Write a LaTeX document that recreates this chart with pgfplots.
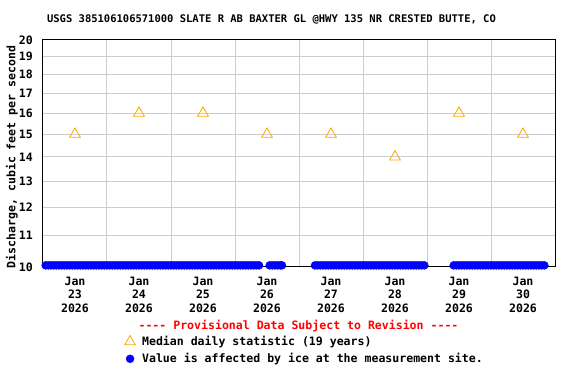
\documentclass[border=0pt]{standalone}
\usepackage{fontspec}
\setmonofont{DejaVu Sans Mono}
\usepackage{pgfplots}
\pgfplotsset{compat=1.18}
\definecolor{gridgray}{HTML}{CCCCCC}
\definecolor{medorange}{HTML}{FFA500}
\begin{document}
\ttfamily\bfseries\fontsize{11.55}{13}\selectfont
\begin{tikzpicture}
\useasboundingbox (-43pt,-117pt) rectangle (533pt,267pt);
\begin{axis}[
  at={(0pt,0pt)}, anchor=south west,
  scale only axis, width=512pt, height=227pt,
  xmin=0, xmax=192,
  ymode=log, ymin=10, ymax=20,
  ytick={10,11,12,13,14,15,16,17,18,19,20},
  yticklabels={10,11,12,13,14,15,16,17,18,19,20},
  xtick={12,36,60,84,108,132,156,180},
  xticklabels={{Jan\\23\\2026},{Jan\\24\\2026},{Jan\\25\\2026},{Jan\\26\\2026},{Jan\\27\\2026},{Jan\\28\\2026},{Jan\\29\\2026},{Jan\\30\\2026}},
  xticklabel style={align=center, anchor=north, inner sep=0pt, yshift=-10pt, font=\ttfamily\bfseries\fontsize{11.55}{13.2}\selectfont},
  yticklabel style={anchor=east, inner sep=0pt, xshift=-10pt},
  minor xtick={24,48,72,96,120,144,168},
  xminorgrids, ymajorgrids,
  major grid style={draw=gridgray, line width=1pt},
  minor grid style={draw=gridgray, line width=1pt},
  major tick length=0pt, minor tick length=0pt,
  axis line style={line width=1pt, black},
  /pgf/number format/assume math mode=true,
  clip=false,
  legend style={at={(axis description cs:0.158,-0.297)}, anchor=north west, draw=none, fill=none, inner sep=0pt, row sep=3pt, nodes={inner sep=1.5pt}},
  legend cell align=left,
  legend image code/.code={\path[draw=none,fill=none] (0pt,0pt) -- (16.5pt,0pt); \draw[mark repeat=2,mark phase=2,#1] plot coordinates {(0pt,0pt)(6pt,0pt)(12pt,0pt)};},
]
\addplot[only marks, mark=triangle, mark size=6.2pt, draw=medorange, line width=0.8pt] coordinates {
(12,15) (36,16) (60,16) (84,15) (108,15) (132,14) (156,16) (180,15)};
\addlegendentry{Median daily statistic (19 years)}
\addplot[only marks, mark=*, mark size=4pt, draw=blue, fill=blue] coordinates {
(1,10.05) (2,10.05) (3,10.05) (4,10.05) (5,10.05) (6,10.05) (7,10.05) (8,10.05) (9,10.05) (10,10.05)
(11,10.05) (12,10.05) (13,10.05) (14,10.05) (15,10.05) (16,10.05) (17,10.05) (18,10.05) (19,10.05) (20,10.05)
(21,10.05) (22,10.05) (23,10.05) (24,10.05) (25,10.05) (26,10.05) (27,10.05) (28,10.05) (29,10.05) (30,10.05)
(31,10.05) (32,10.05) (33,10.05) (34,10.05) (35,10.05) (36,10.05) (37,10.05) (38,10.05) (39,10.05) (40,10.05)
(41,10.05) (42,10.05) (43,10.05) (44,10.05) (45,10.05) (46,10.05) (47,10.05) (48,10.05) (49,10.05) (50,10.05)
(51,10.05) (52,10.05) (53,10.05) (54,10.05) (55,10.05) (56,10.05) (57,10.05) (58,10.05) (59,10.05) (60,10.05)
(61,10.05) (62,10.05) (63,10.05) (64,10.05) (65,10.05) (66,10.05) (67,10.05) (68,10.05) (69,10.05) (70,10.05)
(71,10.05) (72,10.05) (73,10.05) (74,10.05) (75,10.05) (76,10.05) (77,10.05) (78,10.05) (79,10.05) (80,10.05)
(81,10.05)
(85,10.05) (86,10.05) (87,10.05) (88,10.05) (89,10.05) (89.6,10.05)
(102,10.05) (103,10.05) (104,10.05) (105,10.05) (106,10.05) (107,10.05) (108,10.05) (109,10.05) (110,10.05)
(111,10.05) (112,10.05) (113,10.05) (114,10.05) (115,10.05) (116,10.05) (117,10.05) (118,10.05) (119,10.05) (120,10.05)
(121,10.05) (122,10.05) (123,10.05) (124,10.05) (125,10.05) (126,10.05) (127,10.05) (128,10.05) (129,10.05) (130,10.05)
(131,10.05) (132,10.05) (133,10.05) (134,10.05) (135,10.05) (136,10.05) (137,10.05) (138,10.05) (139,10.05) (140,10.05)
(141,10.05) (142,10.05) (143,10.05)
(154,10.05) (155,10.05) (156,10.05) (157,10.05) (158,10.05) (159,10.05) (160,10.05)
(161,10.05) (162,10.05) (163,10.05) (164,10.05) (165,10.05) (166,10.05) (167,10.05) (168,10.05) (169,10.05) (170,10.05)
(171,10.05) (172,10.05) (173,10.05) (174,10.05) (175,10.05) (176,10.05) (177,10.05) (178,10.05) (179,10.05) (180,10.05)
(181,10.05) (182,10.05) (183,10.05) (184,10.05) (185,10.05) (186,10.05) (187,10.05) (188,10.05)};
\addlegendentry{Value is affected by ice at the measurement site.}
\end{axis}
\node[font=\ttfamily\bfseries\fontsize{10.5}{12}\selectfont] at (228.5pt,248pt) {USGS 385106106571000 SLATE R AB BAXTER GL @HWY 135 NR CRESTED BUTTE, CO};
\node[rotate=90] at (-31pt,110pt) {Discharge, cubic feet per second};
\node[text=red] at (255.5pt,-59pt) {{-}{-}{-}{-} Provisional Data Subject to Revision {-}{-}{-}{-}};
\end{tikzpicture}
\end{document}
